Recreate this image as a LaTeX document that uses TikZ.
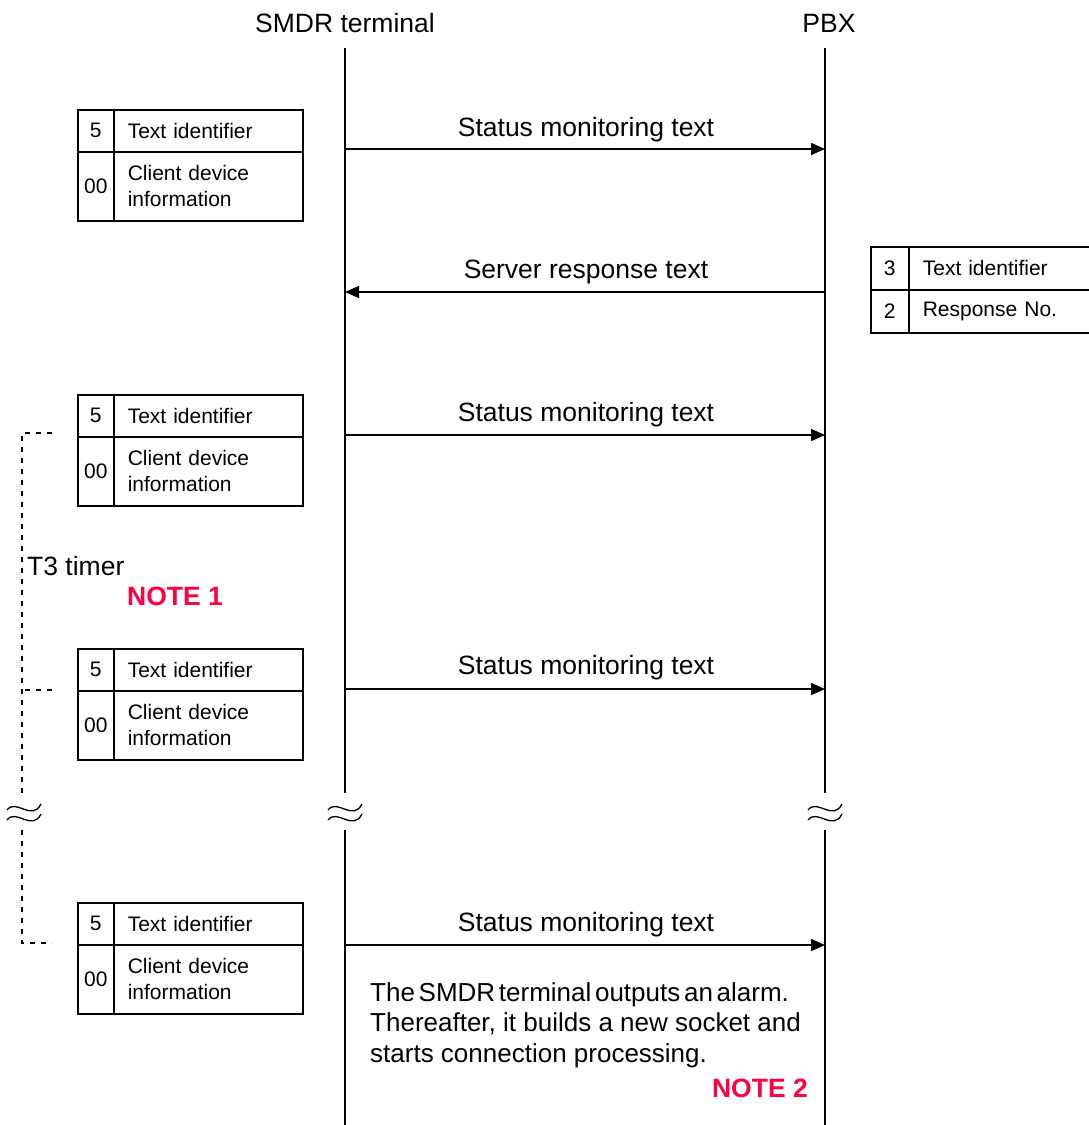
\documentclass[tikz,border=0pt]{standalone}
\usepackage{fontspec}
\setmainfont{Liberation Sans}
\usetikzlibrary{arrows.meta}
\definecolor{notered}{RGB}{255,0,64}
\newcommand\tightsp{\hspace{3.7pt}}
\begin{document}
\begin{tikzpicture}[x=1pt,y=-1pt,
  lifeline/.style={line width=1.6pt},
  msg/.style={line width=1.6pt,-{Triangle[length=14pt,width=12pt]}},
  timer/.style={line width=1.6pt,dash pattern=on 5pt off 6pt},
  wave/.style={line width=1.3pt},
  big/.style={font=\fontsize{26.5}{30.5}\selectfont,inner sep=0pt},
  remark/.style={font=\fontsize{26}{30.5}\selectfont,inner sep=0pt},
  note/.style={big,font=\fontsize{26.5}{30.5}\selectfont\bfseries,text=notered},
  cellnum/.style={draw,line width=1.6pt,inner sep=0pt,anchor=north west,
    font=\fontsize{21}{26}\selectfont},
  celltext/.style={draw,line width=1.6pt,inner xsep=14pt,inner ysep=0pt,
    align=left,anchor=north west,font=\fontsize{21}{26}\selectfont},
  clientbox/.pic={
    \node[cellnum,minimum width=36pt,minimum height=42pt] (-a) at (0,0) {5};
    \node[celltext,text width=161pt,minimum height=42pt] (-b) at (36,0) {Text identifier};
    \node[cellnum,minimum width=36pt,minimum height=69pt] (-c) at (0,42) {00};
    \node[celltext,text width=161pt,minimum height=69pt] (-d) at (36,42) {Client device\\information};
  },
  serverbox/.pic={
    \node[cellnum,minimum width=38pt,minimum height=43pt] (-a) at (0,0) {3};
    \node[celltext,text width=156pt,minimum height=43pt] (-b) at (38,0) {Text identifier};
    \node[cellnum,minimum width=38pt,minimum height=43pt] (-c) at (0,43) {2};
    \node[celltext,text width=156pt,minimum height=43pt] (-d) at (38,43) {Response No.};
  },
  brk/.pic={
    \draw[wave] (-17,-2) .. controls (-8,-14) and (8,10) .. (17,-8);
    \draw[wave] (-17,8) .. controls (-8,-4) and (8,20) .. (17,2);
  }
]
\useasboundingbox (0,0) rectangle (1088,1125);

% headers
\node[big,anchor=base] (hs) at (345,32) {SMDR terminal};
\node[big,anchor=base] (hp) at (829,32) {PBX};

% lifelines with a break
\coordinate (s0) at (345,48);  \coordinate (s1) at (345,793);
\coordinate (s2) at (345,830); \coordinate (s3) at (345,1125);
\coordinate (p0) at (825,48);  \coordinate (p1) at (825,793);
\coordinate (p2) at (825,830); \coordinate (p3) at (825,1125);
\draw[lifeline] (s0) -- (s1) (s2) -- (s3);
\draw[lifeline] (p0) -- (p1) (p2) -- (p3);
\pic (bs) at (345,812) {brk};
\pic (bp) at (825,812) {brk};

% messages
\coordinate (sa) at (345,149); \coordinate (pa) at (825,149);
\coordinate (sb) at (345,292); \coordinate (pb) at (825,292);
\coordinate (sc) at (345,435); \coordinate (pc) at (825,435);
\coordinate (sd) at (345,689); \coordinate (pd) at (825,689);
\coordinate (se) at (345,945); \coordinate (pe) at (825,945);
\draw[msg] (sa) -- (pa);
\draw[msg] (pb) -- (sb);
\draw[msg] (sc) -- (pc);
\draw[msg] (sd) -- (pd);
\draw[msg] (se) -- (pe);
\node[big,anchor=base] (la) at (586,136) {Status monitoring text};
\node[big,anchor=base] (lb) at (586,278) {Server response text};
\node[big,anchor=base] (lc) at (586,421) {Status monitoring text};
\node[big,anchor=base] (ld) at (586,674) {Status monitoring text};
\node[big,anchor=base] (le) at (586,931) {Status monitoring text};

% message contents
\pic (c1) at (77,109) {clientbox};
\pic (c2) at (77,394) {clientbox};
\pic (c3) at (77,648) {clientbox};
\pic (c4) at (77,902) {clientbox};
\pic (r1) at (870,246) {serverbox};

% T3 timer bracket
\coordinate (ta) at (52,433); \coordinate (t0) at (22,433);
\coordinate (tb) at (52,690); \coordinate (tm) at (22,690);
\coordinate (t1) at (22,793); \coordinate (t2) at (22,830);
\coordinate (tc) at (52,943); \coordinate (t3) at (22,943);
\draw[timer] (ta) -- (t0) -- (t1);
\draw[timer] (tb) -- (tm);
\draw[timer] (t2) -- (t3) -- (tc);
\pic (bt) at (24,812) {brk};
\node[big,anchor=base west] (t3l) at (27,575) {T3 timer};
\node[note,anchor=base west] (n1) at (127,605) {NOTE 1};

% closing remark
\node[remark,anchor=north west,align=left] (alarm) at (370,982)
  {The\tightsp SMDR\tightsp terminal\tightsp outputs\tightsp an\tightsp alarm.\\Thereafter, it builds a new socket and\\starts connection processing.};
\node[note,anchor=base east] (n2) at (808,1097) {NOTE 2};
\end{tikzpicture}
\end{document}
